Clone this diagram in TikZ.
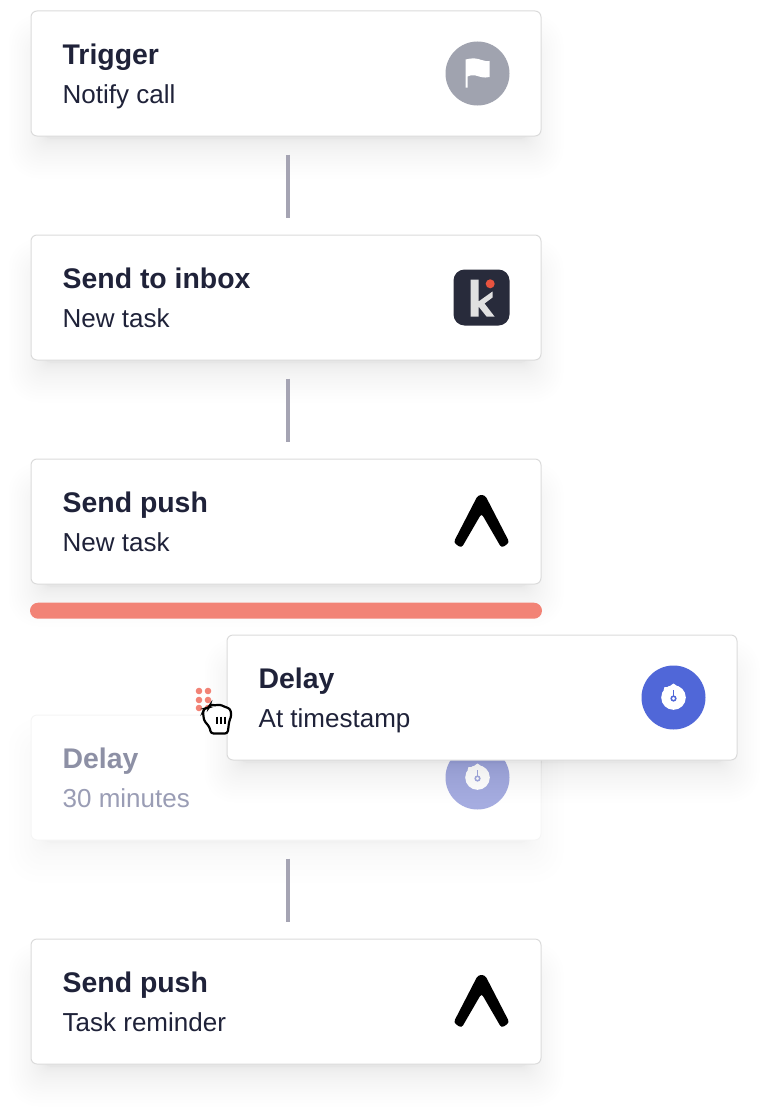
\documentclass[tikz,border=0pt]{standalone}
\usepackage{fontspec}
\setmainfont{Liberation Sans}
\usetikzlibrary{positioning,calc}
\pgfdeclarelayer{backshadow}
\pgfdeclarelayer{dragshadow}
\pgfdeclarelayer{drag}
\pgfsetlayers{backshadow,main,dragshadow,drag}
\definecolor{inkdark}{HTML}{1F2239}
\definecolor{inkfade}{HTML}{8D90A5}
\definecolor{subfade}{HTML}{9A9DB5}
\definecolor{linegrey}{HTML}{A5A4B3}
\definecolor{flaggrey}{HTML}{A0A3AF}
\definecolor{coral}{HTML}{F28376}
\definecolor{timerblue}{HTML}{5067D8}
\definecolor{timerfade}{HTML}{A5ACE0}
\definecolor{tilenavy}{HTML}{282B3B}
\definecolor{dotred}{HTML}{E8533F}
\tikzset{
    card/.style={draw=black!14, line width=1pt, fill=white, rounded corners=6pt, minimum width=510pt, minimum height=125pt, inner sep=0pt},
    fadecard/.style={card, draw=black!4},
    cardtitle/.style={anchor=base west, inner sep=0pt, font=\fontsize{28.4}{28}\selectfont\bfseries, text=inkdark},
    cardsub/.style={anchor=base west, inner sep=0pt, font=\fontsize{26}{26}\selectfont, text=inkdark},
    link/.style={draw=linegrey, line width=4pt, shorten <=18pt, shorten >=17pt},
    flagicon/.pic={
        \fill[flaggrey] (0,0) circle (32);
        \fill[white] (-12,-14) .. controls (-5,-16) and (0,-15) .. (4,-13.5) .. controls (7,-12.5) and (10,-12) .. (12,-12.5) -- (12,3.5) .. controls (6,5) and (2,3) .. (-2,2) .. controls (-5,1) and (-8,2) .. (-10,3) -- (-10,14) -- (-12,14) -- cycle;
    },
    kicon/.pic={
        \fill[tilenavy, rounded corners=11pt] (-24,-28) rectangle (32,28);
        \fill[black!12] (-7,-18) -- (1,-18) -- (1,4) -- (15,-6) -- (15,0) -- (7,6) -- (17,19) -- (9,19) -- (1,9) -- (1,19) -- (-7,19) -- cycle;
        \fill[dotred] (12.7,-13.7) circle (4.5);
    },
    chevron/.pic={
        \fill[black, rounded corners=3pt] (-3.5,-26.5) -- (3.5,-26.5) -- (28,21) -- (20,26.5) -- (0,-8) -- (-20,26.5) -- (-28,21) -- cycle;
    },
    timericon/.pic={
        \fill[pic actions] (0,0) circle (32);
        \fill[white] (0,0) circle (12.3) (-3,-12) -- (0,-14) -- (3,-12) -- cycle (-10,-7) -- (-9,-10.5) -- (-5,-10.5) -- cycle;
        \draw[pic actions, fill=none, line width=1.5pt] (0,1) circle (2.3);
        \draw[pic actions, line width=1.5pt] (0,-1.3) -- (0,-8);
    },
}
% card with its two lines of text
\newcommand{\cardtext}[5]{
    \node[cardtitle, text=#4] (#1title) at ([shift={(32,54)}]#1.north west) {#2};
    \node[cardsub, text=#5] (#1sub) at ([shift={(32,93)}]#1.north west) {#3};
}
% stack of faint rounded boxes, packed closer towards the card
\newcommand{\softshadow}[2]{
    \foreach \i in {0,#2,...,24} {
        \pgfmathsetmacro{\g}{40*(1-(1-\i/24)^2)}
        \pgfmathsetmacro{\r}{30-\g*0.6}
        \fill[black, opacity=0.004, rounded corners=\r pt] ($(#1.north west)+(\g*0.9-22,\g+4)$) rectangle ($(#1.south east)+(-\g*0.9+22,42-\g)$);
    }
}
\begin{document}
\begin{tikzpicture}[x=1pt, y=-1pt]
    \useasboundingbox (0,0) rectangle (768,1116);

    \node[card] (trigger) at (286,73.5) {};
    \node[card, below=98pt of trigger] (inbox) {};
    \node[card, below=98pt of inbox] (pushA) {};
    \node[fadecard, below=130pt of pushA] (wait) {};
    \node[card, below=98pt of wait] (pushB) {};

    \begin{pgfonlayer}{backshadow}
        \foreach \c in {trigger,inbox,pushA,pushB} {\softshadow{\c}{1}}
        \softshadow{wait}{2}
    \end{pgfonlayer}

    \cardtext{trigger}{Trigger}{Notify call}{inkdark}{inkdark}
    \cardtext{inbox}{Send to inbox}{New task}{inkdark}{inkdark}
    \cardtext{pushA}{Send push}{New task}{inkdark}{inkdark}
    \cardtext{wait}{Delay}{30 minutes}{inkfade}{subfade}
    \cardtext{pushB}{Send push}{Task reminder}{inkdark}{inkdark}

    \pic at ([xshift=-64pt]trigger.east) {flagicon};
    \pic at ([xshift=-64pt]inbox.east) {kicon};
    \pic at ([xshift=-60pt]pushA.east) {chevron};
    \pic[timerfade] at ([xshift=-64pt]wait.east) {timericon};
    \pic at ([xshift=-60pt]pushB.east) {chevron};

    \draw[link] ([xshift=2pt]trigger.south) -- ([xshift=2pt]inbox.north);
    \draw[link] ([xshift=2pt]inbox.south) -- ([xshift=2pt]pushA.north);
    \draw[link] ([xshift=2pt]wait.south) -- ([xshift=2pt]pushB.north);

    \node[below=18pt of pushA, fill=coral, rounded corners=8pt, minimum width=512pt, minimum height=16pt, inner sep=0pt] (dropbar) {};

    % the card being dragged
    \begin{pgfonlayer}{drag}
        \node[card] (moved) at (482,697.5) {};
        \cardtext{moved}{Delay}{At timestamp}{inkdark}{inkdark}
        \pic[timerblue] at ([xshift=-64pt]moved.east) {timericon};
        \foreach \x in {199,208} {
            \foreach \y in {691,700,708} {
                \fill[coral] (\x,\y) circle (3.3);
            }
        }
        \draw[black, fill=white, line width=2.2pt, rounded corners=2.5pt] (203,712) -- (204.5,708) -- (209,708) -- (210,704.5) -- (215,705.5) -- (220,704.5) -- (225,707) -- (230,708.5) -- (231.5,715) -- (229,722) -- (228.5,727) -- (227.5,733.5) -- (211,733.5) -- (209.5,727) -- (204,720.5) -- cycle;
        \foreach \x in {216.7,220.7,224.7} {
            \draw[black, line width=2pt] (\x,716.5) -- (\x,723.5);
        }
    \end{pgfonlayer}
    \begin{pgfonlayer}{dragshadow}
        \softshadow{moved}{1}
    \end{pgfonlayer}
\end{tikzpicture}
\end{document}
